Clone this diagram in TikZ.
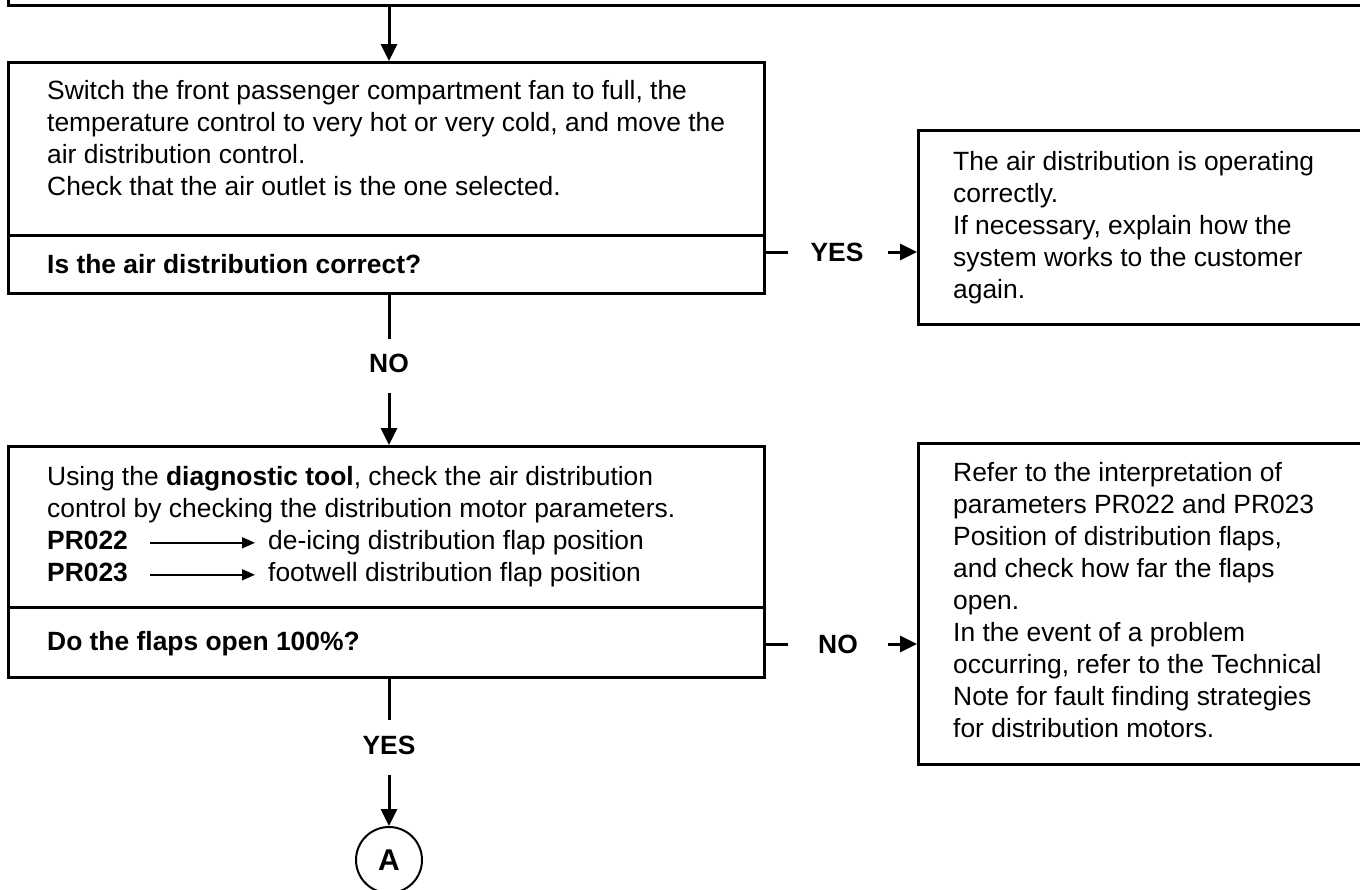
\documentclass[tikz,border=0pt]{standalone}
\usepackage{fontspec}
\setmainfont{Liberation Sans}
\usetikzlibrary{arrows.meta}
\begin{document}
\begin{tikzpicture}[x=1pt,y=-1pt,
  box/.style={draw, line width=3pt, rectangle, inner sep=0pt, anchor=north west},
  txt/.style={anchor=north west, inner sep=0pt, align=left, font=\fontsize{26.4}{32}\selectfont},
  btxt/.style={txt, font=\fontsize{26.4}{32}\selectfont\bfseries},
  lbl/.style={inner sep=0pt, font=\fontsize{26.4}{32}\selectfont\bfseries},
  conn/.style={line width=3pt},
  arr/.style={line width=3pt, -{Triangle[length=17pt,width=16pt]}},
  parr/.style={line width=1.5pt, -{Triangle[length=13pt,width=11pt]}},
]
\useasboundingbox (0,0) rectangle (1360,889);
% top (previous) box, mostly off the page
\node[box, anchor=south west, minimum width=1400pt, minimum height=60pt] (top) at (7,7) {};
\coordinate (vx) at (389,0);

% box 1
\node[box, minimum width=756pt, minimum height=231pt] (b1) at (7,61) {};
\coordinate (d1) at (0,235);
\draw[conn] (b1.west |- d1) -- (b1.east |- d1);
\node[txt] (t1) at (47,76.6) {\strut Switch the front passenger compartment fan to full, the\\temperature control to very hot or very cold, and move the\\air distribution control.\\Check that the air outlet is the one selected.};
\node[btxt] (q1) at (47,250.6) {\strut Is the air distribution correct?};

% right box 1
\node[box, minimum width=460pt, minimum height=194pt] (r1) at (917,129) {};
\node[txt] (rt1) at (953,147.6) {\strut The air distribution is operating\\correctly.\\If necessary, explain how the\\system works to the customer\\again.};

\node[lbl] (yes1) at (837,252) {YES};
\draw[conn] (b1.east |- yes1) -- ++(22,0);
\coordinate (ya) at (888,252);
\draw[arr] (ya) -- (ya -| r1.west);

% vertical b1 -> b2
\coordinate (n1e) at (389,339);
\draw[conn] (b1.south -| vx) -- (n1e);
\node[lbl] (no1) at (389,363) {NO};
\coordinate (n1s) at (389,393);

% box 2
\node[box, minimum width=756pt, minimum height=231pt] (b2) at (7,445) {};
\draw[arr] (n1s) -- (b2.north -| vx);
\coordinate (d2) at (0,607);
\draw[conn] (b2.west |- d2) -- (b2.east |- d2);
\node[txt] (t2) at (47,462.6) {\strut Using the \textbf{diagnostic tool}, check the air distribution\\control by checking the distribution motor parameters.};
\node[btxt] (p22) at (47,526.6) {\strut PR022};
\node[txt] (d22) at (268,526.6) {\strut de-icing distribution flap position};
\node[btxt] (p23) at (47,558.6) {\strut PR023};
\node[txt] (d23) at (268,558.6) {\strut footwell distribution flap position};
\draw[parr] ([xshift=22pt]p22.east) -- ([xshift=-13pt]d22.west);
\draw[parr] ([xshift=22pt]p23.east) -- ([xshift=-13pt]d23.west);
\node[btxt] (q2) at (47,627.6) {\strut Do the flaps open 100\%?};

% right box 2
\node[box, minimum width=460pt, minimum height=321pt] (r2) at (917,442) {};
\node[txt] (rt2) at (953,458.6) {\strut Refer to the interpretation of\\parameters PR022 and PR023\\Position of distribution flaps,\\and check how far the flaps\\open.\\In the event of a problem\\occurring, refer to the Technical\\Note for fault finding strategies\\for distribution motors.};

\node[lbl] (no2) at (838,644) {NO};
\draw[conn] (b2.east |- no2) -- ++(22,0);
\coordinate (na) at (888,644);
\draw[arr] (na) -- (na -| r2.west);

% vertical b2 -> A
\coordinate (y2e) at (389,720);
\draw[conn] (b2.south -| vx) -- (y2e);
\node[lbl] (yes2) at (389,745) {YES};
\coordinate (y2s) at (389,775);
\node[draw, circle, line width=2pt, minimum size=66pt, inner sep=0pt, font=\fontsize{30}{30}\selectfont\bfseries] (A) at (389,860) {A};
\draw[arr] (y2s) -- (A.north);
% top arrow
\draw[arr] (top.south -| vx) -- (b1.north -| vx);
\end{tikzpicture}
\end{document}
